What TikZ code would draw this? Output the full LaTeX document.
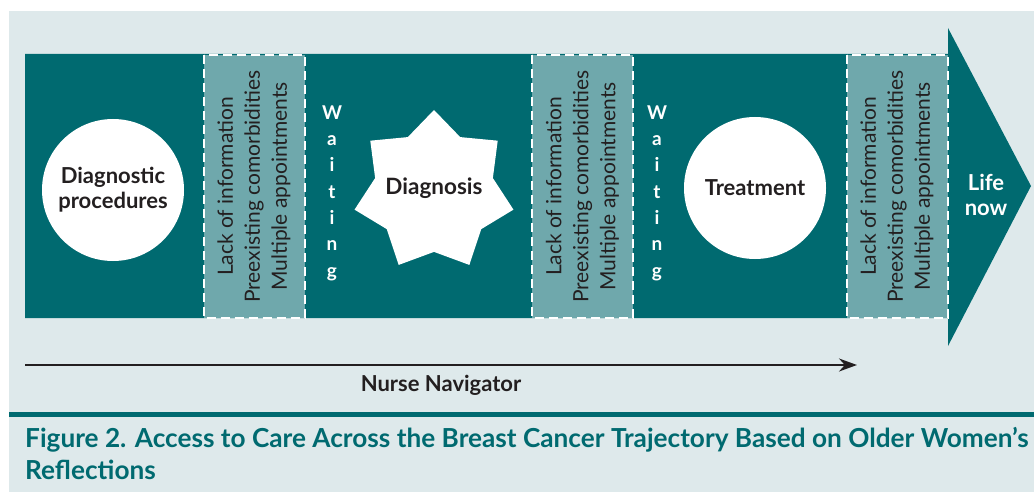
\documentclass[tikz,border=0pt]{standalone}
\usepackage{fontspec}
\setmainfont{Lato}
\usetikzlibrary{shapes.geometric,arrows.meta}
\definecolor{bandteal}{RGB}{0,106,112}
\definecolor{barrierteal}{RGB}{111,168,172}
\definecolor{paleblue}{RGB}{222,233,235}
\definecolor{inkdark}{RGB}{35,31,32}
\newcommand{\waitletters}{W\\a\\i\\t\\i\\n\\g}
\newcommand{\barriertext}{Lack of information\\Preexisting comorbidities\\Multiple appointments}
\begin{document}
\begin{tikzpicture}
[x=1pt,y=-1pt,
  stepdecorate/.style={shape=circle,fill=white,minimum size=142pt,inner sep=0pt,align=center,text=inkdark,font=\fontsize{22}{25}\selectfont\bfseries},%
  stardecorate/.style={shape=star,star points=7,star point ratio=1.35,minimum size=163pt,inner sep=0pt,fill=white},%
  barrierdecorate/.style={shape=rectangle,rotate=90,minimum width=263pt,minimum height=101pt,inner sep=0pt,fill=barrierteal,draw=white,line width=2pt,dash pattern=on 9pt off 5pt,align=center,text=inkdark,font=\fontsize{21}{27}\selectfont},%
  waitdecorate/.style={align=center,text=white,font=\fontsize{19}{26.3}\selectfont\bfseries},%
  linedecorate/.style={-{Stealth[length=18pt,width=13pt]},line width=2pt,draw=inkdark}]
\useasboundingbox (0,0) rectangle (1034,492);
% background, band and head
\fill[paleblue] (9,11) rectangle (1034,492);
\fill[bandteal] (25,54) -- (948,54) -- (948,28) -- (1031,186) -- (948,346) -- (948,318) -- (25,318) -- cycle;
\draw[bandteal,line width=5pt] (9,414) -- (1034,414);
% nodes or vertices
\node (procedures) at (113,190) [stepdecorate] {Diagnostic\\procedures};
\node (barrier1) at (254,186.5) [barrierdecorate] {\barriertext};
\node (wait1) at (332,193) [waitdecorate] {\waitletters};
\node (diagnosis) at (434,191.5) [stardecorate] {};
\node [text=inkdark,font=\fontsize{22.5}{25}\selectfont\bfseries] at ([yshift=3pt]diagnosis.center) {Diagnosis};
\node (barrier2) at (582.5,186.5) [barrierdecorate] {\barriertext};
\node (wait2) at (657,193) [waitdecorate] {\waitletters};
\node (treatment) at (755,188) [stepdecorate] {Treatment};
\node (barrier3) at (897,186.5) [barrierdecorate] {\barriertext};
\node (life) at (986,195) [align=center,text=white,font=\fontsize{22}{25}\selectfont\bfseries] {Life\\now};
% nurse navigator
\coordinate (navstart) at (25,365);
\coordinate (navend) at (857,365);
\path (navstart) edge[linedecorate] node[below=6pt,text=inkdark,font=\fontsize{22}{24}\selectfont\bfseries]{Nurse Navigator} (navend);
% caption
\node (caption) at (25,427) [anchor=north west,inner sep=0pt,align=left,text=bandteal,font=\fontsize{26.2}{32}\selectfont\bfseries]
  {Figure 2. Access to Care Across the Breast Cancer Trajectory Based on Older Women’s\\Reflections};
\end{tikzpicture}
\end{document}
